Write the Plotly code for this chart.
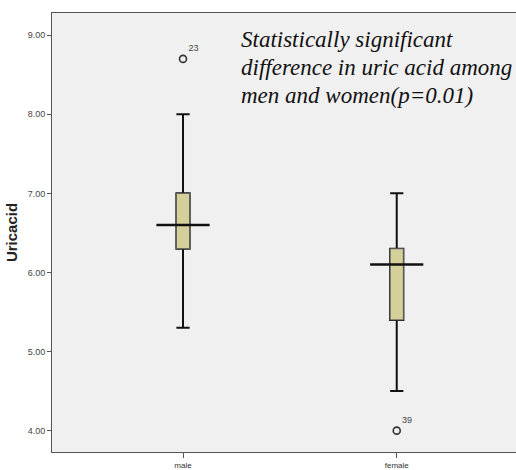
import plotly.graph_objects as go

categories = ["male", "female"]
q1 = [6.3, 5.4]
median = [6.6, 6.1]
q3 = [7.0, 6.3]
lower_whisker = [5.3, 4.5]
upper_whisker = [8.0, 7.0]
outlier_x = ["male", "female"]
outlier_y = [8.7, 4.0]
outlier_labels = ["23", "39"]
y_ticks = [4, 5, 6, 7, 8, 9]
note_lines = [
    "Statistically significant",
    "difference in uric acid among",
    "men and women(p=0.01)",
]

fig = go.Figure()

# whiskers + caps (black, thicker)
fig.add_trace(go.Box(
    x=categories, q1=q1, median=median, q3=q3,
    lowerfence=lower_whisker, upperfence=upper_whisker,
    width=0.062, whiskerwidth=1,
    fillcolor="#d4d09a", line=dict(color="#111111", width=2),
    hoverinfo="skip", showlegend=False,
))
# box outline (thin grey)
fig.add_trace(go.Box(
    x=categories, q1=q1, median=median, q3=q3,
    lowerfence=q1, upperfence=q3,
    width=0.062, whiskerwidth=0,
    fillcolor="#d4d09a", line=dict(color="#5a5a5a", width=1),
    hoverinfo="skip", showlegend=False,
))
# wide median lines
fig.add_trace(go.Scatter(
    x=categories, y=median, mode="markers",
    marker=dict(symbol="line-ew", size=38, line=dict(color="#111111", width=2.5)),
    hoverinfo="skip", showlegend=False,
))
# outliers
fig.add_trace(go.Scatter(
    x=outlier_x, y=outlier_y, mode="markers+text",
    text=outlier_labels, textposition="top right",
    textfont=dict(family="Liberation Sans, Arial", size=9, color="#444444"),
    marker=dict(symbol="circle-open", size=7, color="#333333", line=dict(color="#333333", width=1.6)),
    hoverinfo="skip", showlegend=False,
))

plot_top, plot_bottom = 13, 452
line_centers_px = [39, 67, 95]
annotations = []
for txt, py in zip(note_lines, line_centers_px):
    annotations.append(dict(
        xref="paper", yref="paper", x=0.404, y=(plot_bottom - py) / (plot_bottom - plot_top),
        xanchor="left", yanchor="middle", align="left", showarrow=False,
        text="<i>" + txt + "</i>",
        font=dict(family="Liberation Serif, Times New Roman", size=23, color="#111111"),
    ))

fig.update_layout(
    width=516, height=470,
    margin=dict(l=52, r=0, t=plot_top, b=470 - plot_bottom),
    paper_bgcolor="white", plot_bgcolor="#f0f0f0",
    boxmode="overlay",
    font=dict(family="Liberation Sans, Arial", color="#333333"),
    annotations=annotations,
)

fig.update_xaxes(
    type="category", range=[-0.613, 1.558], automargin=False,
    showline=True, linecolor="#555555", linewidth=1, mirror=True,
    ticks="outside", ticklen=5, tickcolor="#555555",
    tickfont=dict(size=8, color="#333333"),
    showgrid=False, zeroline=False, fixedrange=True,
)
fig.update_yaxes(
    range=[3.73, 9.28], automargin=False,
    tickvals=y_ticks, tickformat=".2f",
    showline=True, linecolor="#555555", linewidth=1, mirror=False,
    ticks="outside", ticklen=4, tickcolor="#555555",
    tickfont=dict(size=9, color="#444444"),
    title=dict(text="<b>Uricacid</b>", font=dict(size=15, color="#222222"), standoff=6),
    showgrid=False, zeroline=False, fixedrange=True,
)

fig.write_html(
    "out.html",
    config={"displayModeBar": False},
    post_script="document.body.style.margin='0';document.body.style.overflow='hidden';",
)
